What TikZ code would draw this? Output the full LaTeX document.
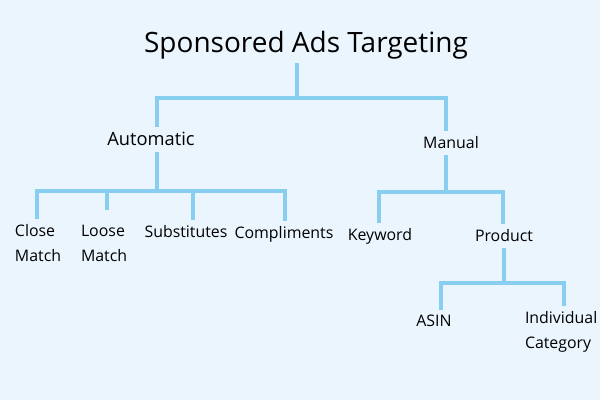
\documentclass[tikz,border=0pt]{standalone}
\usepackage{fontspec}
\setmainfont{Open Sans}
\usetikzlibrary{positioning}
\definecolor{bgblue}{RGB}{235,245,254}
\definecolor{linkblue}{RGB}{135,206,240}

\begin{document}
\begin{tikzpicture}[
  x=0.025cm, y=-0.025cm,
  lbl/.style={inner sep=0pt, outer xsep=0pt, outer ysep=4pt, text=black,
              font=\fontsize{11.3}{17.8}\selectfont},
  lbl2/.style={lbl, align=left},
  head/.style={lbl, outer ysep=2.5pt, font=\fontsize{19.9}{24}\selectfont},
  link/.style={draw=linkblue, line width=2.3pt}
]
\fill[bgblue] (0,0) rectangle (600,400);

\node[head, anchor=base] (root)  at (306,53)  {Sponsored Ads Targeting};
\node[lbl, anchor=base, font=\fontsize{13}{17.8}\selectfont]
                         (auto)  at (151,146) {Automatic};
\node[lbl, anchor=base]  (man)   at (451,149) {Manual};

\node[lbl2, anchor=base west] (close) at (15,262)  {Close\\Match};
\node[lbl2, anchor=base west] (loose) at (81,262)  {Loose\\Match};
\node[lbl, anchor=base]       (subs)  at (186,238) {Substitutes};
\node[lbl, anchor=base]       (comp)  at (284,239) {Compliments};

\node[lbl, anchor=base]  (key)   at (380,241) {Keyword};
\node[lbl, anchor=base]  (prod)  at (504,242) {Product};

\node[lbl, anchor=base]       (asin) at (434,327) {ASIN};
\node[lbl2, anchor=base west] (cat)  at (525,349) {Individual\\Category};

\coordinate (j0)  at (297,98);
\coordinate (j0l) at (157,98);
\coordinate (j0r) at (446,98);
\draw[link] (root.south -| j0) -- (j0);
\draw[link] (auto.north -| j0l) -- (j0l) -- (j0r) -- (man.north -| j0r);

\coordinate (j1)  at (157,191);
\coordinate (j1a) at (37,191);
\coordinate (j1b) at (107,191);
\coordinate (j1c) at (193,191);
\coordinate (j1d) at (285,191);
\draw[link] (auto.south -| j1) -- (j1);
\draw[link] (close.north -| j1a) -- (j1a) -- (j1d) -- (comp.north -| j1d);
\draw[link, shorten <=7pt] (loose.north -| j1b) -- (j1b);
\draw[link] (subs.north -| j1c) -- (j1c);

\coordinate (j2)  at (446,192);
\coordinate (j2l) at (379,192);
\coordinate (j2r) at (503,192);
\draw[link] (man.south -| j2) -- (j2);
\draw[link] (key.north -| j2l) -- (j2l) -- (j2r) -- (prod.north -| j2r);

\coordinate (j3)  at (504,283);
\coordinate (j3l) at (441,283);
\coordinate (j3r) at (564,283);
\draw[link] (prod.south -| j3) -- (j3);
\draw[link] (asin.north -| j3l) -- (j3l) -- (j3r) -- (cat.north -| j3r);
\end{tikzpicture}
\end{document}
